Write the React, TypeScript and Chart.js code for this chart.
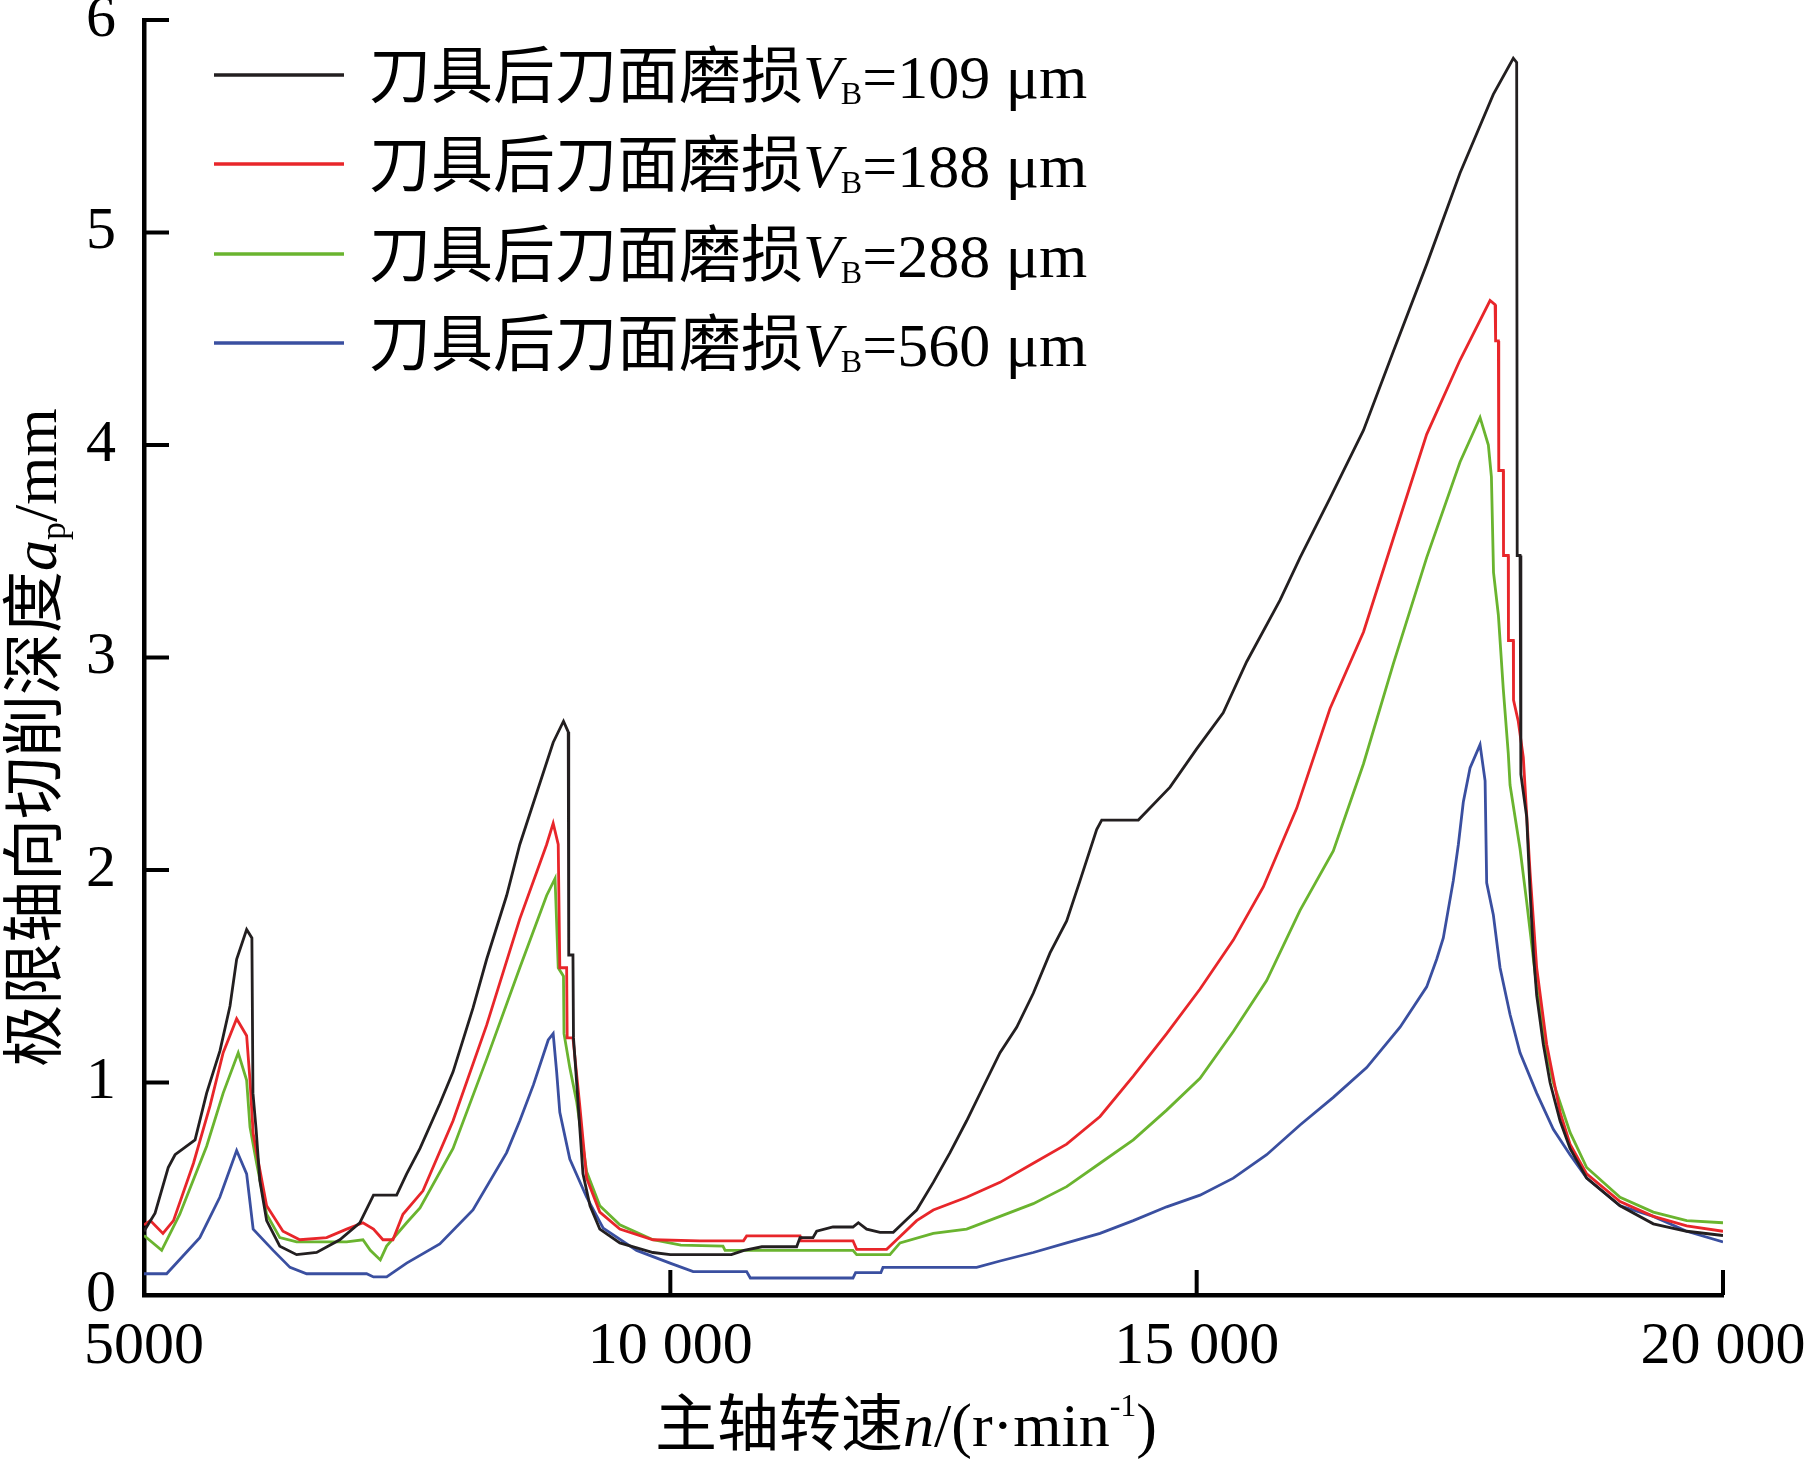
import React, { useEffect, useRef } from 'react';
import { Chart, registerables } from 'chart.js';

Chart.register(...registerables);

// spindle speed n (r/min) and limiting axial depth a_p (mm)
const speed109 = [
  5000, 5105, 5230, 5295, 5485, 5595, 5722, 5817, 5880, 5975,
  6025, 6035, 6065, 6100, 6165, 6290, 6450, 6640, 6860, 7050,
  7180, 7400, 7495, 7622, 7810, 7936, 8125, 8255, 8445, 8570,
  8887, 8985, 9030, 9035, 9075, 9080, 9110, 9170, 9237, 9330,
  9520, 9835, 10000, 10580, 10700, 10870, 11200, 11232, 11355, 11390,
  11545, 11735, 11786, 11865, 11992, 12118, 12213, 12340, 12498, 12657,
  12815, 12973, 13132, 13290, 13448, 13607, 13765, 13892, 14050, 14098,
  14446, 14747, 15000, 15252, 15475, 15792, 15982, 16267, 16585, 16868,
  17185, 17502, 17818, 18008, 18040, 18045, 18072, 18080, 18135, 18167,
  18200, 18230, 18293, 18357, 18452, 18547, 18705, 19022, 19338, 19655,
  20000,
];
const depth109 = [
  0.30, 0.385, 0.60, 0.66, 0.73, 0.95, 1.15, 1.36, 1.58, 1.72,
  1.68, 0.95, 0.78, 0.54, 0.35, 0.23, 0.19, 0.20, 0.26, 0.34,
  0.47, 0.47, 0.57, 0.69, 0.90, 1.05, 1.35, 1.58, 1.88, 2.12,
  2.60, 2.70, 2.65, 1.60, 1.60, 1.21, 1.00, 0.57, 0.42, 0.31,
  0.245, 0.20, 0.19, 0.19, 0.21, 0.227, 0.227, 0.27, 0.27, 0.30,
  0.32, 0.32, 0.34, 0.31, 0.295, 0.295, 0.34, 0.40, 0.53, 0.67,
  0.82, 0.98, 1.14, 1.26, 1.42, 1.61, 1.76, 1.95, 2.19, 2.235,
  2.235, 2.39, 2.57, 2.74, 2.98, 3.27, 3.47, 3.75, 4.07, 4.44,
  4.85, 5.28, 5.65, 5.82, 5.80, 3.48, 3.48, 2.45, 2.25, 1.90,
  1.60, 1.41, 1.18, 1.00, 0.82, 0.69, 0.55, 0.42, 0.335, 0.30,
  0.28,
];

const speed188 = [
  5000, 5060, 5180, 5280, 5470, 5627, 5752, 5880, 5975, 6007,
  6037, 6100, 6165, 6320, 6480, 6735, 6925, 7080, 7180, 7270,
  7365, 7460, 7650, 7936, 8255, 8570, 8825, 8887, 8935, 8950,
  9015, 9020, 9075, 9140, 9205, 9330, 9520, 9835, 10280, 10695,
  10725, 11232, 11240, 11735, 11770, 12055, 12118, 12340, 12498, 12815,
  13132, 13448, 13765, 14082, 14398, 14715, 15032, 15348, 15633, 15950,
  16267, 16585, 16868, 17185, 17502, 17787, 17835, 17840, 17866, 17870,
  17913, 17915, 17960, 17962, 18008, 18010, 18055, 18103, 18167, 18230,
  18325, 18452, 18547, 18705, 19022, 19338, 19655, 20000,
];
const depth188 = [
  0.33, 0.35, 0.29, 0.35, 0.62, 0.89, 1.14, 1.30, 1.22, 1.01,
  0.76, 0.59, 0.42, 0.30, 0.26, 0.27, 0.31, 0.34, 0.31, 0.26,
  0.26, 0.38, 0.49, 0.82, 1.27, 1.77, 2.12, 2.22, 2.12, 1.54,
  1.54, 1.21, 1.21, 0.89, 0.55, 0.39, 0.31, 0.26, 0.255, 0.255,
  0.278, 0.278, 0.255, 0.255, 0.215, 0.215, 0.245, 0.35, 0.40, 0.46,
  0.53, 0.62, 0.71, 0.84, 1.03, 1.23, 1.44, 1.67, 1.92, 2.29,
  2.76, 3.12, 3.56, 4.05, 4.40, 4.68, 4.66, 4.49, 4.49, 3.88,
  3.88, 3.48, 3.48, 3.08, 3.08, 2.80, 2.70, 2.53, 1.99, 1.54,
  1.18, 0.86, 0.71, 0.57, 0.44, 0.37, 0.325, 0.30,
];

const speed288 = [
  5000, 5168, 5340, 5595, 5752, 5895, 5975, 6007, 6070, 6165,
  6290, 6450, 6925, 7080, 7150, 7245, 7305, 7495, 7622, 7936,
  8255, 8570, 8825, 8905, 8935, 8985, 8990, 9045, 9110, 9205,
  9330, 9520, 9835, 10100, 10500, 10520, 11735, 11770, 12086, 12182,
  12498, 12815, 13132, 13448, 13765, 14082, 14398, 14715, 15032, 15348,
  15665, 15982, 16298, 16585, 16868, 17185, 17502, 17692, 17771, 17800,
  17820, 17866, 17913, 17960, 17977, 18072, 18135, 18230, 18325, 18388,
  18547, 18705, 19022, 19338, 19655, 20000,
];
const depth288 = [
  0.28, 0.21, 0.38, 0.70, 0.95, 1.14, 1.01, 0.79, 0.62, 0.38,
  0.27, 0.25, 0.25, 0.26, 0.21, 0.165, 0.23, 0.34, 0.41, 0.69,
  1.11, 1.54, 1.88, 1.96, 1.54, 1.50, 1.23, 1.07, 0.91, 0.58,
  0.42, 0.33, 0.26, 0.235, 0.23, 0.21, 0.21, 0.19, 0.19, 0.245,
  0.29, 0.31, 0.37, 0.43, 0.51, 0.62, 0.73, 0.87, 1.02, 1.24,
  1.48, 1.81, 2.09, 2.50, 2.97, 3.47, 3.92, 4.13, 4.00, 3.85,
  3.40, 3.20, 2.85, 2.55, 2.40, 2.10, 1.85, 1.45, 1.14, 1.00,
  0.765, 0.60, 0.46, 0.39, 0.35, 0.34,
];

const speed560 = [
  5000, 5215, 5530, 5720, 5880, 5975, 6037, 6227, 6387, 6545,
  7115, 7180, 7305, 7495, 7810, 8125, 8445, 8570, 8700, 8840,
  8887, 8920, 8950, 9045, 9205, 9362, 9680, 9997, 10217, 10725,
  10760, 11735, 11760, 12000, 12020, 12910, 13132, 13448, 13765, 14082,
  14398, 14715, 15032, 15348, 15665, 15982, 16298, 16615, 16932, 17185,
  17280, 17343, 17438, 17486, 17533, 17597, 17692, 17740, 17755, 17818,
  17882, 17977, 18072, 18230, 18388, 18547, 18705, 19022, 19338, 19655,
  20000,
];
const depth560 = [
  0.10, 0.10, 0.27, 0.46, 0.68, 0.57, 0.31, 0.21, 0.13, 0.10,
  0.10, 0.085, 0.085, 0.15, 0.24, 0.40, 0.67, 0.82, 0.99, 1.20,
  1.23, 1.05, 0.86, 0.64, 0.46, 0.315, 0.21, 0.15, 0.11, 0.11,
  0.08, 0.08, 0.105, 0.105, 0.13, 0.13, 0.16, 0.20, 0.245, 0.29,
  0.35, 0.415, 0.47, 0.55, 0.66, 0.80, 0.93, 1.07, 1.26, 1.45,
  1.58, 1.68, 1.95, 2.12, 2.32, 2.48, 2.59, 2.42, 1.94, 1.79,
  1.54, 1.32, 1.14, 0.95, 0.78, 0.66, 0.55, 0.42, 0.37, 0.30,
  0.25,
];

const wearValues = ['109', '188', '288', '560'];
const xTickValues = [5000, 10000, 15000, 20000];
const yTickValues = [0, 1, 2, 3, 4, 5, 6];

const lineColors = ['#231f20', '#e8262a', '#6ab42f', '#3a4fa0'];

const SERIF = '"Liberation Serif", "Times New Roman", serif';
const CJK = '"Noto Sans CJK SC", "Noto Sans CJK JP", sans-serif';

type Run = { text: string; font: string; dy?: number };

function runsWidth(ctx: CanvasRenderingContext2D, runs: Run[]) {
  let w = 0;
  for (const r of runs) {
    ctx.font = r.font;
    w += ctx.measureText(r.text).width;
  }
  return w;
}

function drawRuns(ctx: CanvasRenderingContext2D, runs: Run[], x: number, y: number) {
  for (const r of runs) {
    ctx.font = r.font;
    ctx.fillText(r.text, x, y + (r.dy || 0));
    x += ctx.measureText(r.text).width;
  }
}

const decorations = {
  id: 'decorations',
  afterDraw(chart: any) {
    const { ctx, chartArea, scales } = chart;
    ctx.save();

    // inward tick marks
    ctx.strokeStyle = '#000';
    ctx.lineWidth = 4;
    scales.x.ticks.forEach((t: any) => {
      const px = scales.x.getPixelForValue(t.value);
      if (px <= chartArea.left + 2) return;
      ctx.beginPath();
      ctx.moveTo(px, chartArea.bottom);
      ctx.lineTo(px, chartArea.bottom - 25);
      ctx.stroke();
    });
    scales.y.ticks.forEach((t: any) => {
      const py = scales.y.getPixelForValue(t.value);
      if (py >= chartArea.bottom - 2) return;
      ctx.beginPath();
      ctx.moveTo(chartArea.left, py);
      ctx.lineTo(chartArea.left + 25, py);
      ctx.stroke();
    });

    ctx.fillStyle = '#000';
    ctx.textBaseline = 'alphabetic';
    ctx.textAlign = 'left';

    // legend
    const rowY = [75, 164, 254, 343];
    chart.data.datasets.forEach((ds: any, i: number) => {
      const y = rowY[i];
      ctx.strokeStyle = ds.borderColor;
      ctx.lineWidth = 3.5;
      ctx.beginPath();
      ctx.moveTo(214, y);
      ctx.lineTo(344, y);
      ctx.stroke();
      drawRuns(ctx, [
        { text: '刀具后刀面磨损', font: `62px ${CJK}` },
        { text: 'V', font: `italic 62px ${SERIF}` },
        { text: 'B', font: `32px ${SERIF}`, dy: 6 },
        { text: `=${wearValues[i]} \u03bcm`, font: `62px ${SERIF}` },
      ], 369, y + 23);
    });

    // x axis title
    const xTitle: Run[] = [
      { text: '主轴转速', font: `62px ${CJK}` },
      { text: 'n', font: `italic 62px ${SERIF}` },
      { text: '/(r\u00b7min', font: `62px ${SERIF}` },
      { text: '-1', font: `32px ${SERIF}`, dy: -30 },
      { text: ')', font: `62px ${SERIF}` },
    ];
    const xw = runsWidth(ctx, xTitle);
    drawRuns(ctx, xTitle, 906 - xw / 2, 1446);

    // y axis title
    ctx.translate(56, 1067);
    ctx.rotate(-Math.PI / 2);
    drawRuns(ctx, [
      { text: '极限轴向切削深度', font: `62px ${CJK}` },
      { text: 'a', font: `italic 62px ${SERIF}` },
      { text: 'p', font: `36px ${SERIF}`, dy: 9 },
      { text: '/mm', font: `62px ${SERIF}` },
    ], 0, 0);

    ctx.restore();
  },
};

export default function App() {
  const canvasRef = useRef<HTMLCanvasElement>(null);

  useEffect(() => {
    document.body.style.margin = '0';
    const series = [
      [speed109, depth109],
      [speed188, depth188],
      [speed288, depth288],
      [speed560, depth560],
    ];
    const chart = new Chart(canvasRef.current!, {
      type: 'line',
      data: {
        datasets: series.map(([sp, dp], i) => ({
          label: `VB=${wearValues[i]} μm`,
          data: sp.map((x, k) => ({ x, y: dp[k] })),
          borderColor: lineColors[i],
          borderWidth: 2.8,
          pointRadius: 0,
          tension: 0,
          fill: false,
        })),
      },
      options: {
        animation: false,
        responsive: false,
        devicePixelRatio: 1,
        events: [],
        layout: { padding: { top: 20, right: 87, left: 0, bottom: 0 } },
        plugins: { legend: { display: false }, tooltip: { enabled: false } },
        scales: {
          x: {
            type: 'linear',
            min: 5000,
            max: 20000,
            afterBuildTicks: (s: any) => {
              s.ticks = xTickValues.map((value) => ({ value }));
            },
            afterFit: (s: any) => {
              s.height = 166;
              s.paddingLeft = 0;
              s.paddingRight = 0;
            },
            ticks: {
              autoSkip: false,
              maxRotation: 0,
              padding: 16,
              color: '#000',
              font: { family: SERIF, size: 60 },
              callback: (v: any) =>
                v >= 10000 ? `${Math.floor(v / 1000)} 000` : String(v),
            },
            grid: { display: false, drawTicks: false },
            border: { display: true, color: '#000', width: 4.5 },
          },
          y: {
            type: 'linear',
            min: 0,
            max: 6,
            afterBuildTicks: (s: any) => {
              s.ticks = yTickValues.map((value) => ({ value }));
            },
            afterFit: (s: any) => {
              s.width = 144;
              s.paddingTop = 0;
              s.paddingBottom = 0;
            },
            ticks: {
              padding: 28,
              color: '#000',
              font: { family: SERIF, size: 60 },
            },
            grid: { display: false, drawTicks: false },
            border: { display: true, color: '#000', width: 4.5 },
          },
        },
      },
      plugins: [decorations],
    });
    return () => chart.destroy();
  }, []);

  return (
    <div style={{ position: 'absolute', left: 0, top: 0, width: 1810, height: 1461, background: '#fff', overflow: 'hidden' }}>
      <canvas ref={canvasRef} width={1810} height={1461} style={{ display: 'block' }} />
    </div>
  );
}
